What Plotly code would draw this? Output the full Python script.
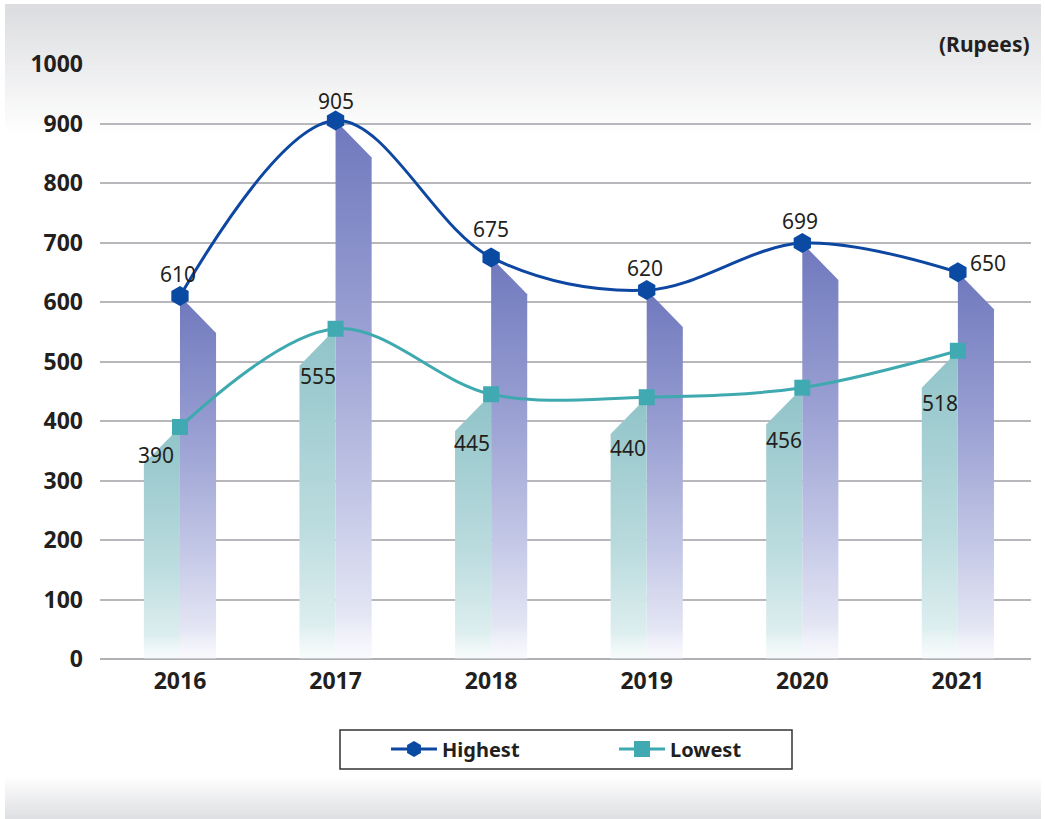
import plotly.graph_objects as go

# ---------------- data ----------------
years = ["2016", "2017", "2018", "2019", "2020", "2021"]
highest = [610, 905, 675, 620, 699, 650]
lowest = [390, 555, 445, 440, 456, 518]
y_ticks = [0, 100, 200, 300, 400, 500, 600, 700, 800, 900, 1000]
unit_label = "(Rupees)"
series_names = ["Highest", "Lowest"]

# ---------------- styling ----------------
W, H = 1045, 819
L, R, T, B = 100, 14, 64, 160
PW, PH = W - L - R, H - T - B
BAR_W = 0.232          # ribbon width in category units
SLANT = 62             # drop of the slanted top, in value units
HI_COLOR = "#0d47a1"
LO_COLOR = "#3fa9b0"
TEXT = "#231f20"
FONT = "Noto Sans"

# label offsets in pixels (style only)
hi_label_dx = [-2, 0, 0, -2, -2, 30]
hi_label_dy = [22, 20, 28, 22, 22, 9]
lo_label_dx = [-24, -18, -19, -19, -18, -18]
lo_label_dy = [-28, -47, -49, -51, -52, -52]


def py2paper(py):
    return (T + PH - py) / PH


def px2paper(px):
    return (px - L) / PW


xs = list(range(len(years)))
fig = go.Figure()

hi_scale = [[0, "rgba(240,241,250,0.35)"], [0.08, "#e4e6f4"], [0.3, "#c3c7e6"],
            [0.6, "#9ba1d3"], [1, "#6f78bd"]]
lo_scale = [[0, "rgba(236,245,246,0.35)"], [0.1, "#ddeeef"], [0.4, "#bcdcdf"],
            [1, "#8fc3c8"]]

for i, (h, l) in enumerate(zip(highest, lowest)):
    fig.add_trace(go.Scatter(
        x=[i, i + BAR_W, i + BAR_W, i, i],
        y=[h, h - SLANT, 0, 0, h],
        mode="lines", line=dict(width=0), fill="toself",
        fillgradient=dict(type="vertical", colorscale=hi_scale),
        hoverinfo="skip", showlegend=False))
    fig.add_trace(go.Scatter(
        x=[i, i - BAR_W, i - BAR_W, i, i],
        y=[l, l - SLANT, 0, 0, l],
        mode="lines", line=dict(width=0), fill="toself",
        fillgradient=dict(type="vertical", colorscale=lo_scale),
        hoverinfo="skip", showlegend=False))

fig.add_trace(go.Scatter(
    x=xs, y=highest, name=series_names[0],
    mode="lines+markers",
    line=dict(color=HI_COLOR, width=3, shape="spline", smoothing=1.0),
    marker=dict(symbol="hexagon", size=20, color="#0b4aa3"),
    cliponaxis=False))
fig.add_trace(go.Scatter(
    x=xs, y=lowest, name=series_names[1],
    mode="lines+markers",
    line=dict(color=LO_COLOR, width=3, shape="spline", smoothing=1.0),
    marker=dict(symbol="square", size=16, color="#41a9b1"),
    cliponaxis=False))

annotations = []
for i, v in enumerate(highest):
    annotations.append(dict(x=i, y=v, xref="x", yref="y", text=str(v), showarrow=False,
                            xshift=hi_label_dx[i], yshift=hi_label_dy[i],
                            xanchor="center", yanchor="middle",
                            font=dict(family=FONT, size=21, color=TEXT)))
for i, v in enumerate(lowest):
    annotations.append(dict(x=i, y=v, xref="x", yref="y", text=str(v), showarrow=False,
                            xshift=lo_label_dx[i], yshift=lo_label_dy[i],
                            xanchor="center", yanchor="middle",
                            font=dict(family=FONT, size=21, color=TEXT)))
annotations.append(dict(text=unit_label, xref="paper", yref="paper", x=1.001, y=py2paper(44),
                        xanchor="right", yanchor="middle", showarrow=False,
                        font=dict(family=FONT, size=21, color=TEXT, weight="bold")))

# background gradient bands (top and bottom)
shapes = []
top0, top1 = 4, 135
n = 40
for k in range(n):
    y0 = top0 + (top1 - top0) * k / n
    y1 = top0 + (top1 - top0) * (k + 1) / n + 0.5
    f = k / (n - 1)
    c = [int(220 + (255 - 220) * f), int(221 + (255 - 221) * f), int(224 + (255 - 224) * f)]
    shapes.append(dict(type="rect", xref="paper", yref="paper", layer="below",
                       x0=px2paper(5), x1=px2paper(1041), y0=py2paper(y1), y1=py2paper(y0),
                       fillcolor=f"rgb({c[0]},{c[1]},{c[2]})", line=dict(width=0)))
bot0, bot1 = 776, 819
n = 20
for k in range(n):
    y0 = bot0 + (bot1 - bot0) * k / n
    y1 = bot0 + (bot1 - bot0) * (k + 1) / n + 0.5
    f = k / (n - 1)
    c = [int(255 - (255 - 223) * f), int(255 - (255 - 224) * f), int(255 - (255 - 227) * f)]
    shapes.append(dict(type="rect", xref="paper", yref="paper", layer="below",
                       x0=px2paper(5), x1=px2paper(1041), y0=py2paper(y1), y1=py2paper(y0),
                       fillcolor=f"rgb({c[0]},{c[1]},{c[2]})", line=dict(width=0)))
# legend frame
shapes.append(dict(type="rect", xref="paper", yref="paper", layer="above",
                   x0=px2paper(340), x1=px2paper(792), y0=py2paper(769), y1=py2paper(730),
                   line=dict(color="#333333", width=1.5), fillcolor="rgba(0,0,0,0)"))

fig.update_layout(
    width=W, height=H,
    margin=dict(l=L, r=R, t=T, b=B),
    paper_bgcolor="white", plot_bgcolor="rgba(0,0,0,0)",
    shapes=shapes,
    annotations=annotations,
    showlegend=True,
    legend=dict(orientation="h", x=px2paper(386), xanchor="left", y=py2paper(749),
                yanchor="middle",
                font=dict(family=FONT, size=20, color=TEXT, weight="bold"),
                bgcolor="rgba(0,0,0,0)", borderwidth=0, itemwidth=46,
                entrywidth=167),
    xaxis=dict(range=[-0.514, 5.47], tickvals=xs, ticktext=years, showgrid=False,
               zeroline=False, showline=False, ticks="", ticklabelstandoff=6,
               tickfont=dict(family=FONT, size=23, color=TEXT, weight="bold")),
    yaxis=dict(range=[0, 1000], tickvals=y_ticks, showgrid=True, gridcolor="#b8b8bc",
               gridwidth=1.6, zeroline=True, zerolinecolor="#b0b0b4", zerolinewidth=1.8,
               showline=False, ticks="", ticklabelstandoff=16,
               tickfont=dict(family=FONT, size=23, color=TEXT, weight="bold")),
    hovermode=False,
)

fig.write_html("out.html", post_script="document.body.style.margin='0';",
               config={"displayModeBar": False})
